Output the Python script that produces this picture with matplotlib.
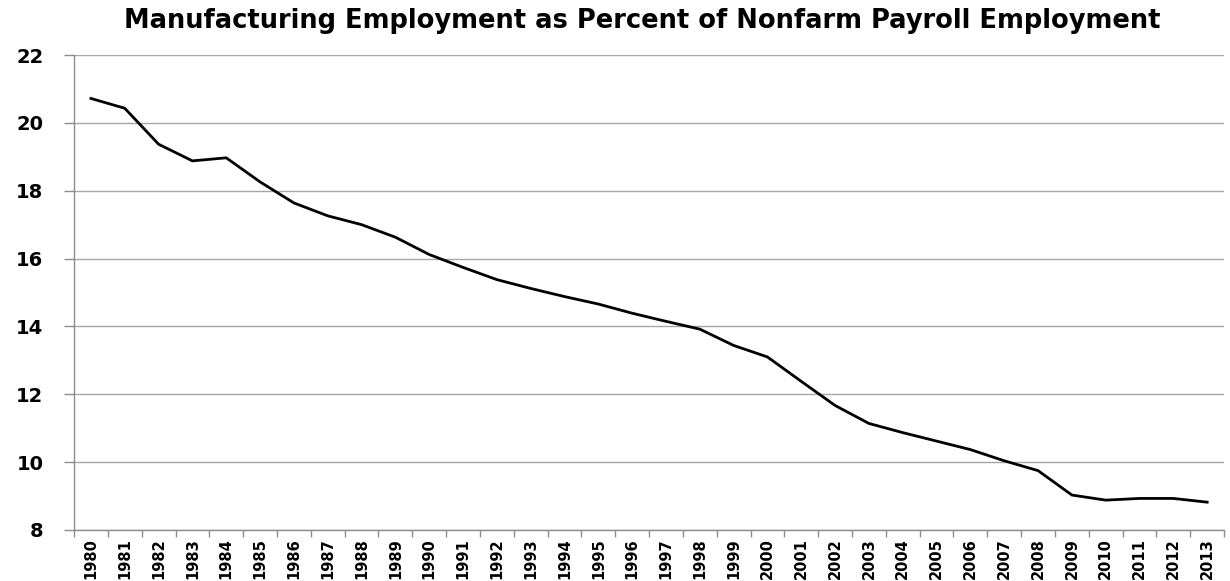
import numpy as np
import matplotlib.pyplot as plt

years = list(range(1980, 2014))
pct = [20.72, 20.43, 19.37, 18.88, 18.97, 18.26, 17.64, 17.26, 17.0, 16.63,
       16.12, 15.74, 15.38, 15.12, 14.88, 14.66, 14.39, 14.15, 13.92, 13.44,
       13.1, 12.38, 11.67, 11.14, 10.87, 10.62, 10.37, 10.04, 9.75, 9.03,
       8.88, 8.93, 8.93, 8.82]
yticks = [8, 10, 12, 14, 16, 18, 20, 22]

fig = plt.figure(figsize=(12.3, 5.81), dpi=100)
ax = fig.add_axes([0.0602, 0.0878, 0.935, 0.8175])

x = np.arange(len(years))
ax.plot(x, pct, color='black', linewidth=2.0, solid_joinstyle='round')

ax.set_xlim(-0.5, len(years) - 0.5)
ax.set_ylim(8, 22)
ax.set_yticks(yticks)
ax.set_yticklabels([str(v) for v in yticks], fontsize=14, fontweight='bold')
ax.yaxis.grid(True, color='#a6a6a6', linewidth=1.0)
ax.set_axisbelow(True)

ax.set_xticks(x)
ax.set_xticklabels([str(y) for y in years], rotation=90, fontsize=10.5,
                   fontweight='bold', family=['Liberation Sans Narrow', 'DejaVu Sans'])
ax.set_xticks(np.arange(-0.5, len(years), 1), minor=True)
ax.tick_params(axis='x', which='major', length=0, pad=6)
ax.tick_params(axis='x', which='minor', length=5, color='#8c8c8c', width=1)
ax.tick_params(axis='y', length=7, color='#8c8c8c', width=1, pad=15)

for s in ['top', 'right']:
    ax.spines[s].set_visible(False)
for s in ['left', 'bottom']:
    ax.spines[s].set_color('#8c8c8c')
    ax.spines[s].set_linewidth(1.0)

fig.text(0.522, 0.964, 'Manufacturing Employment as Percent of Nonfarm Payroll Employment',
         ha='center', va='center', fontsize=18.5, fontweight='bold')

fig.savefig('out.png', dpi=100)
